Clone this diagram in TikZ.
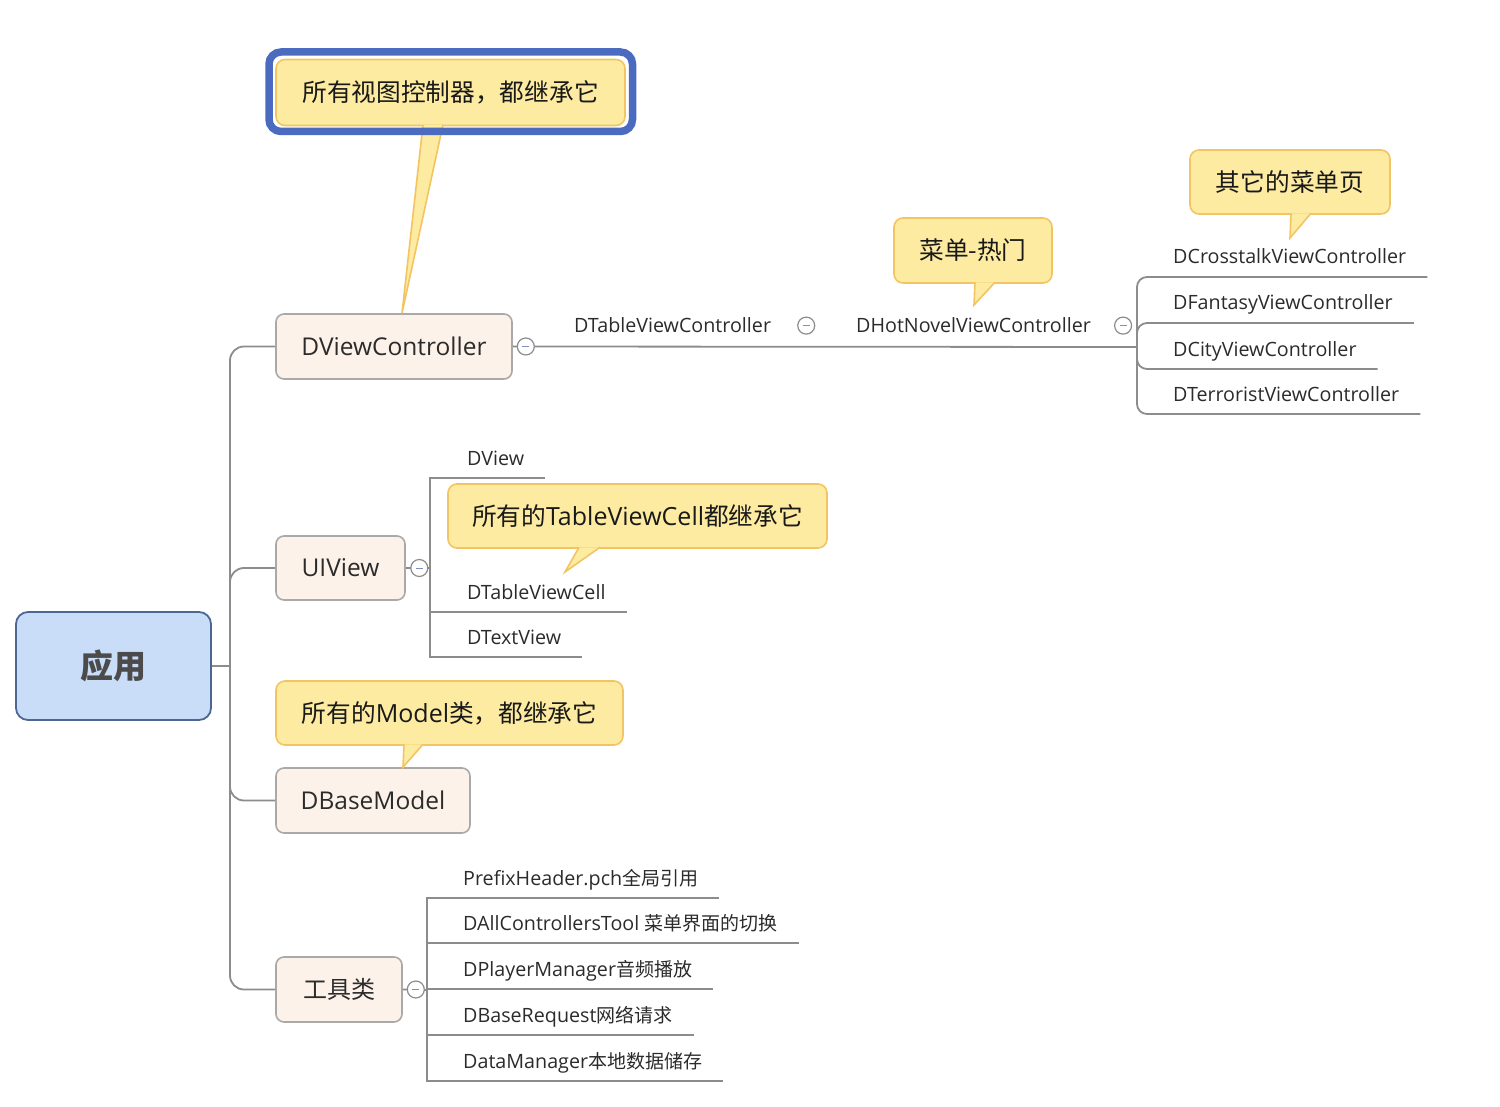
\documentclass[tikz,border=0pt]{standalone}
\usepackage{fontspec}
\setmainfont{Open Sans}
\newfontfamily\cjk{Noto Sans CJK SC}
\usetikzlibrary{calc}
\definecolor{linegray}{HTML}{8C8C8C}
\definecolor{boxfill}{HTML}{FCF2EA}
\definecolor{boxdraw}{HTML}{A9A9A9}
\definecolor{callfill}{HTML}{FCEBA1}
\definecolor{calldraw}{HTML}{F3C462}
\definecolor{rootfill}{HTML}{C9DCF8}
\definecolor{rootdraw}{HTML}{4D6794}
\definecolor{selblue}{HTML}{4A6BBF}
\definecolor{txt}{HTML}{2B2B2B}
\definecolor{minuscol}{HTML}{7F8DBF}
\newcommand\callptr[3]{%
  \fill[callfill] #1 -- #2 -- #3 -- cycle;
  \draw[calldraw, line width=1.6pt] #1 -- #2 -- #3;}
\newcommand\zh[1]{{\cjk\fontsize{19}{19}\selectfont #1}}
\newcommand\zhc[1]{{\cjk\fontsize{24.7}{24.7}\selectfont #1}}
\begin{document}
\begin{tikzpicture}[x=1pt,y=-1pt,
  conn/.style={draw=linegray, line width=1.8pt},
  branchbox/.style={draw=boxdraw, fill=boxfill, line width=1.6pt, rounded corners=8pt, inner sep=0pt, text=txt, font=\fontsize{24.5}{24.5}\selectfont},
  rootbox/.style={draw=rootdraw, fill=rootfill, line width=1.8pt, rounded corners=12pt, inner sep=0pt, text=txt!85, font=\cjk\bfseries\fontsize{33}{33}\selectfont},
  callout/.style={draw=calldraw, fill=callfill, line width=1.6pt, rounded corners=9pt, inner sep=0pt, text=black!90, font=\fontsize{25}{25}\selectfont},
  item/.style={anchor=base west, inner sep=0pt, font=\fontsize{19.7}{19.7}\selectfont, text=txt},
  fold/.style={circle, draw=linegray, fill=white, line width=1.2pt, minimum size=17pt, inner sep=0pt,
    path picture={\draw[minuscol, line width=1pt] ($(path picture bounding box.center)+(-3.5,0)$) -- ++(7,0);}},
]
\useasboundingbox (0,0) rectangle (1500,1107);

% root and branches
\node[rootbox, minimum width=195pt, minimum height=108pt] (root) at (113.5,666) {应用};
\node[branchbox, minimum width=236pt, minimum height=65pt] (dvc) at (394,346.5) {DViewController};
\node[branchbox, minimum width=129pt, minimum height=64pt] (uiv) at (340.5,568) {UIView};
\node[branchbox, minimum width=194pt, minimum height=65pt] (dbm) at (373,800.5) {DBaseModel};
\node[branchbox, minimum width=126pt, minimum height=65pt] (tool) at (339,989.5) {\cjk\fontsize{24}{24}\selectfont 工具类};

\coordinate (tr) at (230,666);
\draw[conn] (root.east) -- (tr);
\foreach \n in {dvc,uiv,dbm,tool} \draw[conn, rounded corners=14pt] (tr) |- (\n.west);

% DViewController chain
\coordinate (j1) at (1137,347);
\draw[conn] (dvc.east) -- (j1);
\node[item] (dtvc) at (574,333) {DTableViewController};
\node[item] (dhn) at (856,333) {DHotNovelViewController};
\node[fold] (f1) at ($(dvc.east)+(13,0)$) {};
\node[fold] (f1b) at ($(dtvc.east)+(35,0)$) {};
\node[fold] (f1c) at ($(dhn.east)+(32,0)$) {};

\node[item] (c1) at (1173,264) {DCrosstalkViewController};
\node[item] (c2) at (1173,310) {DFantasyViewController};
\node[item] (c3) at (1173,356) {DCityViewController};
\node[item] (c4) at (1173,401) {DTerroristViewController};
\foreach \c in {c1,c2,c3,c4} \draw[conn, rounded corners=10pt] (j1) |- ($(\c.base east)+(21,13)$);

% UIView children
\coordinate (j2) at (430,568);
\draw[conn] (uiv.east) -- (j2);
\node[fold] (f2) at ($(uiv.east)+(13.5,0)$) {};
\node[item] (v1) at (467,465) {DView};
\node[item] (v2) at (467,599) {DTableViewCell};
\node[item] (v3) at (467,644) {DTextView};
\foreach \c in {v1,v2,v3} \draw[conn] (j2) |- ($(\c.base east)+(21,13)$);

% tools children
\coordinate (j3) at (427,990);
\draw[conn] (tool.east) -- (j3);
\node[fold] (f3) at ($(tool.east)+(13,0)$) {};
\node[item] (t1) at (463,885) {PrefixHeader.pch\zh{全局引用}};
\node[item] (t2) at (463,930) {DAllControllersTool \zh{菜单界面的切换}};
\node[item] (t3) at (463,976) {DPlayerManager\zh{音频播放}};
\node[item] (t4) at (463,1022) {DBaseRequest\zh{网络请求}};
\node[item] (t5) at (463,1068) {DataManager\zh{本地数据储存}};
\foreach \c in {t1,t2,t3,t4,t5} \draw[conn] (j3) |- ($(\c.base east)+(21,13)$);

% callouts
\node[callout, minimum width=349pt, minimum height=66pt] (n1) at (450.5,92.5) {\zhc{所有视图控制器，都继承它}};
\callptr{($(n1.south)+(-27.5,-1.5)$)}{($(dvc.north)+(8,0)$)}{($(n1.south)+(-7.5,-1.5)$)}
\draw[selblue, line width=7.5pt, rounded corners=12pt] (269,52) rectangle (632.5,131.5);

\node[callout, minimum width=158pt, minimum height=65pt] (n2) at (973,250.5) {\zhc{菜单-热门}};
\coordinate (p2) at (974,305);
\callptr{($(n2.south)+(2,-1.5)$)}{(p2)}{($(n2.south)+(22,-1.5)$)}

\node[callout, minimum width=200pt, minimum height=64pt] (n3) at (1290,182) {\zhc{其它的菜单页}};
\coordinate (p3) at (1290,238);
\callptr{($(n3.south)+(1,-1.5)$)}{(p3)}{($(n3.south)+(21,-1.5)$)}

\node[callout, minimum width=379pt, minimum height=64pt] (n4) at (637.5,516) {\zhc{所有的}TableViewCell\zhc{都继承它}};
\coordinate (p4) at (565,572);
\callptr{($(n4.south)+(-58.5,-1.5)$)}{(p4)}{($(n4.south)+(-37.5,-1.5)$)}

\node[callout, minimum width=347pt, minimum height=64pt] (n5) at (449.5,713) {\zhc{所有的}Model\zhc{类，都继承它}};
\callptr{($(n5.south)+(-45.5,-1.5)$)}{($(dbm.north)+(30,0)$)}{($(n5.south)+(-26.5,-1.5)$)}
\end{tikzpicture}
\end{document}
